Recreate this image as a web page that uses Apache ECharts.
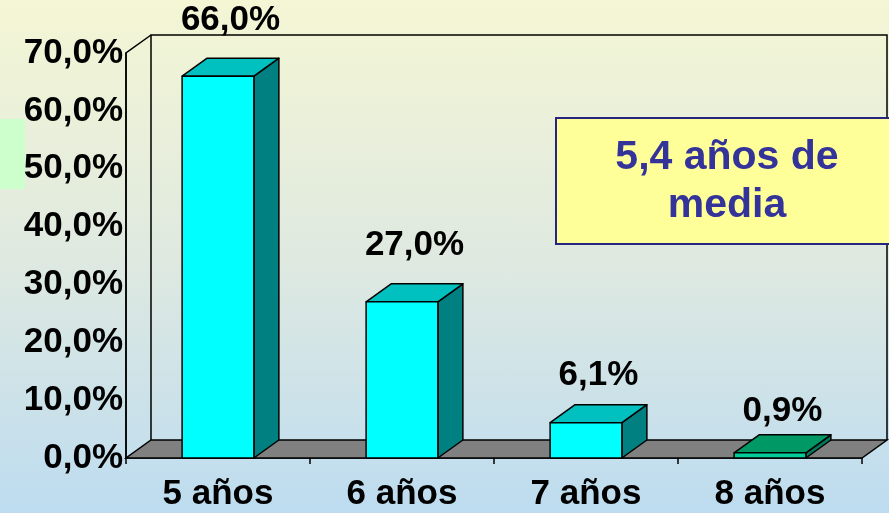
<!DOCTYPE html>
<html lang="es">
<head>
<meta charset="UTF-8" />
<title>Años de media</title>
<script src="https://cdnjs.cloudflare.com/ajax/libs/echarts/6.0.0/echarts.min.js"></script>
<style>
  html, body { margin: 0; padding: 0; }
  #main {
    width: 889px;
    height: 513px;
    background: linear-gradient(to bottom, #f4f6d4 0%, #dfe9e0 50%, #bddcf0 100%);
  }
</style>
</head>
<body>
<div id="main"></div>
<script>
  // data
  const categories = ['5 años', '6 años', '7 años', '8 años'];
  const values = [66.0, 27.0, 6.1, 0.9];
  const valueLabels = ['66,0%', '27,0%', '6,1%', '0,9%'];
  const noteLines = ['5,4 años de', 'media'];

  // bar face colours (front / side / top)
  const barStyles = [
    { front: '#00ffff', side: '#008080', top: '#00c0c0' },
    { front: '#00ffff', side: '#008080', top: '#00c0c0' },
    { front: '#00ffff', side: '#008080', top: '#00c0c0' },
    { front: '#00cc99', side: '#007a5a', top: '#009966' }
  ];

  const DX = 25, DY = -18; // depth of the 3d box
  const FONT = '"Liberation Sans", Arial, sans-serif';

  const chart = echarts.init(document.getElementById('main'));

  function renderWalls(params, api) {
    const cs = params.coordSys;
    const x = cs.x, y = cs.y, w = cs.width, b = cs.y + cs.height;
    return {
      type: 'group',
      children: [
        {
          type: 'polygon',
          shape: { points: [[x, b], [x + w, b], [x + w + DX, b + DY], [x + DX, b + DY]] },
          style: { fill: '#808080', stroke: '#000', lineWidth: 1.5 }
        },
        {
          type: 'polyline',
          shape: { points: [[x + DX, b + DY], [x + DX, y + DY], [x + w + DX, y + DY], [x + w + DX, b + DY]] },
          style: { fill: null, stroke: '#000', lineWidth: 1.5 }
        },
        {
          type: 'polyline',
          shape: { points: [[x, b], [x, y], [x + DX, y + DY]] },
          style: { fill: null, stroke: '#000', lineWidth: 1.5 }
        }
      ]
    };
  }

  function renderBar(params, api) {
    const i = api.value(0);
    const v = api.value(1);
    const base = api.coord([i, 0]);
    const top = api.coord([i, v]);
    const w = api.size([1, 0])[0] * 0.39;
    const x0 = base[0] - w / 2, x1 = base[0] + w / 2;
    const y0 = base[1], y1 = top[1];
    const s = barStyles[i];
    const edge = { stroke: '#000', lineWidth: 1.5, lineJoin: 'round' };
    // short bars get their label a bit closer
    const gap = Math.min(38, 22 + 0.2 * (y0 - y1));
    return {
      type: 'group',
      children: [
        {
          type: 'polygon',
          shape: { points: [[x1, y0], [x1 + DX, y0 + DY], [x1 + DX, y1 + DY], [x1, y1]] },
          style: Object.assign({ fill: s.side }, edge)
        },
        {
          type: 'polygon',
          shape: { points: [[x0, y1], [x1, y1], [x1 + DX, y1 + DY], [x0 + DX, y1 + DY]] },
          style: Object.assign({ fill: s.top }, edge)
        },
        {
          type: 'polygon',
          shape: { points: [[x0, y0], [x1, y0], [x1, y1], [x0, y1]] },
          style: Object.assign({ fill: s.front }, edge)
        },
        {
          type: 'text',
          x: base[0] + DX / 2,
          y: y1 + DY - gap,
          style: {
            text: valueLabels[i],
            fill: '#000',
            fontSize: 35,
            fontWeight: 'bold',
            fontFamily: FONT,
            align: 'center',
            verticalAlign: 'middle'
          }
        }
      ]
    };
  }

  const option = {
    animation: false,
    grid: { left: 126, right: 27, top: 53, bottom: 55 },
    xAxis: {
      type: 'category',
      data: categories,
      axisLine: { show: true, lineStyle: { color: '#000', width: 1.5 } },
      axisTick: { show: true, length: 6, interval: 0, lineStyle: { color: '#000', width: 1.5 } },
      axisLabel: {
        margin: 19,
        color: '#000',
        fontSize: 35,
        fontWeight: 'bold',
        fontFamily: FONT
      }
    },
    yAxis: {
      type: 'value',
      min: 0,
      max: 70,
      interval: 10,
      splitLine: { show: false },
      axisLine: { show: true, lineStyle: { color: '#000', width: 1.5 } },
      axisTick: { show: false },
      axisLabel: {
        margin: 3,
        color: '#000',
        fontSize: 35,
        fontWeight: 'bold',
        fontFamily: FONT,
        formatter: function (v) { return v.toFixed(1).replace('.', ',') + '%'; }
      }
    },
    graphic: [
      {
        type: 'rect',
        left: 0,
        top: 119,
        shape: { width: 25, height: 70 },
        style: { fill: '#ccffcc' },
        z: -1
      },
      {
        type: 'rect',
        left: 555,
        top: 117,
        shape: { width: 345, height: 126 },
        style: { fill: '#ffff99', stroke: '#262680', lineWidth: 2 },
        z: 100
      },
      {
        type: 'text',
        x: 727,
        y: 158,
        style: {
          text: noteLines[0],
          fill: '#333399',
          fontSize: 41,
          fontWeight: 'bold',
          fontFamily: FONT,
          align: 'center',
          verticalAlign: 'middle'
        },
        z: 101
      },
      {
        type: 'text',
        x: 727,
        y: 206,
        style: {
          text: noteLines[1],
          fill: '#333399',
          fontSize: 41,
          fontWeight: 'bold',
          fontFamily: FONT,
          align: 'center',
          verticalAlign: 'middle'
        },
        z: 101
      }
    ],
    series: [
      {
        type: 'custom',
        renderItem: renderWalls,
        data: [[0, 0]],
        clip: false,
        silent: true,
        z: 1
      },
      {
        type: 'custom',
        renderItem: renderBar,
        data: values.map(function (v, i) { return [i, v]; }),
        clip: false,
        z: 3
      }
    ]
  };

  chart.setOption(option);
</script>
</body>
</html>
